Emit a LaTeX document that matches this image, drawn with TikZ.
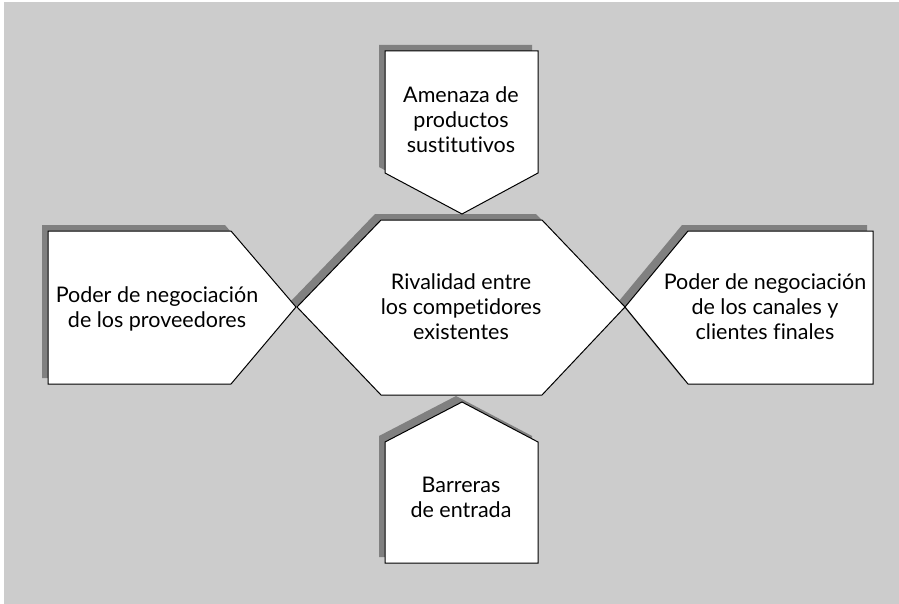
\documentclass[tikz,border=0pt]{standalone}
\usepackage{fontspec}
\setmainfont{Lato}[Ligatures={NoCommon,NoRare}]
\begin{document}
\begin{tikzpicture}[x=1pt, y=-1pt,
			force/.style={draw=black, fill=white, line width=1pt, line join=miter},
			shadow/.style={fill=black!50, draw=none, shift={(-6,-6)}},
			txt/.style={align=center, inner sep=0pt, font=\fontsize{21.5}{25}\selectfont}
		]

		% Background
		\fill[white] (0,0) rectangle (899,604);
		\fill[black!20] (4,2) rectangle (899,604);

		% Shadows
		\fill[shadow] (385,51) -- (538,51) -- (538,173) -- (462,214) -- (385,173) -- cycle;
		\fill[shadow] (48,231) -- (231,231) -- (296,307) -- (231,384) -- (48,384) -- cycle;
		\fill[shadow] (381,220) -- (542,220) -- (625,307) -- (542,395) -- (381,395) -- (297,307) -- cycle;
		\fill[shadow] (688,231) -- (873,231) -- (873,384) -- (688,384) -- (625,307) -- cycle;
		\fill[shadow] (462,402) -- (538,442) -- (538,563) -- (385,563) -- (385,442) -- cycle;

		% Forces
		\draw[force] (385,51) -- (538,51) -- (538,173) -- (462,214) -- (385,173) -- cycle;
		\draw[force] (48,231) -- (231,231) -- (296,307) -- (231,384) -- (48,384) -- cycle;
		\draw[force] (381,220) -- (542,220) -- (625,307) -- (542,395) -- (381,395) -- (297,307) -- cycle;
		\draw[force] (688,231) -- (873,231) -- (873,384) -- (688,384) -- (625,307) -- cycle;
		\draw[force] (462,402) -- (538,442) -- (538,563) -- (385,563) -- (385,442) -- cycle;

		% Labels
		\node[txt] (sust) at (461,120) {Amenaza de\\productos\\sustitutivos};
		\node[txt] (prov) at (157,309) {Poder de negociación\\de los proveedores};
		\node[txt] (rival) at (461,307) {Rivalidad entre\\los competidores\\existentes};
		\node[txt] (clien) at (765,307) {Poder de negociación\\de los canales y\\clientes finales};
		\node[txt] (barr) at (461,497) {Barreras\\de entrada};

	\end{tikzpicture}
\end{document}
